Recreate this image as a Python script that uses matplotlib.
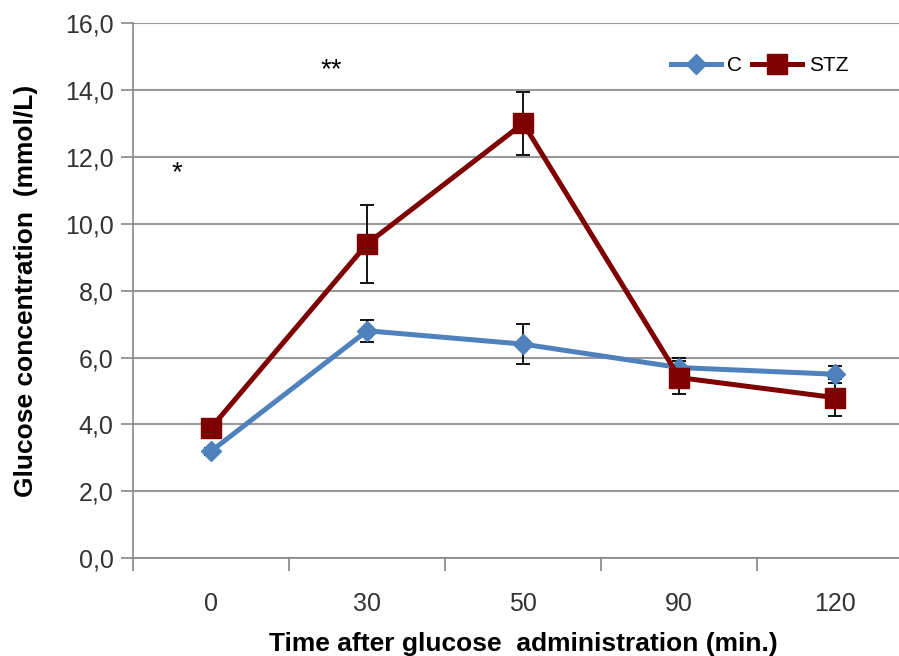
import matplotlib.pyplot as plt

plt.rcParams['font.family'] = ['Liberation Sans', 'DejaVu Sans']

# glucose tolerance data
times = ["0", "30", "50", "90", "120"]
c_mean = [3.2, 6.8, 6.4, 5.7, 5.5]
c_err = [0.1, 0.33, 0.6, 0.3, 0.25]
stz_mean = [3.9, 9.4, 13.0, 5.4, 4.8]
stz_err = [0.1, 1.17, 0.95, 0.5, 0.55]

fig = plt.figure(figsize=(8.99, 6.56), dpi=100)
ax = fig.add_axes([0.148, 0.149, 0.868, 0.816])
x = list(range(len(times)))

# error bars first so the markers sit on top
ax.errorbar(x, c_mean, yerr=c_err, fmt='none', ecolor='black', elinewidth=1.3, capsize=5, capthick=1.3, zorder=2)
ax.errorbar(x, stz_mean, yerr=stz_err, fmt='none', ecolor='black', elinewidth=1.3, capsize=5, capthick=1.3, zorder=2)
ax.plot(x, c_mean, color='#4F81BD', lw=3.6, marker='D', markersize=10, label='C', zorder=3)
ax.plot(x, stz_mean, color='#7F0000', lw=3.6, marker='s', markersize=14, label='STZ', zorder=4)

ax.set_xlim(-0.5, 4.5)
ax.set_ylim(0, 16)
ax.set_yticks(range(0, 17, 2))
ax.set_yticklabels([f"{v},0" for v in range(0, 17, 2)], fontsize=18, color='#333333')
ax.set_xticks(x)
ax.set_xticklabels(times, fontsize=18, color='#333333')
ax.tick_params(axis='x', which='major', length=0, pad=24)
ax.set_xticks([i + 0.5 for i in range(-1, 5)], minor=True)
ax.tick_params(axis='x', which='minor', length=9, color='#888888', width=1.2)
ax.tick_params(axis='y', length=9, color='#888888', width=1.2, pad=5)

ax.grid(axis='y', color='#999999', lw=1.5)
ax.set_axisbelow(True)
for s in ['top', 'right']:
    ax.spines[s].set_visible(False)
for s in ['left', 'bottom']:
    ax.spines[s].set_color('#888888')
    ax.spines[s].set_linewidth(1.2)

ax.set_xlabel("Time after glucose  administration (min.)", fontsize=19, fontweight='bold', labelpad=12)
ax.set_ylabel("Glucose concentration  (mmol/L)", fontsize=19, fontweight='bold', labelpad=19)

# significance marks
ax.text(-0.22, 11.5, "*", fontsize=20, ha='center', va='center')
ax.text(0.77, 14.6, "**", fontsize=20, ha='center', va='center')

ax.legend(loc='center left', bbox_to_anchor=(0.665, 0.92), ncol=2, frameon=False, fontsize=15,
          handlelength=2.4, columnspacing=0.5, handletextpad=0.3)

fig.savefig("out.png", dpi=100)
